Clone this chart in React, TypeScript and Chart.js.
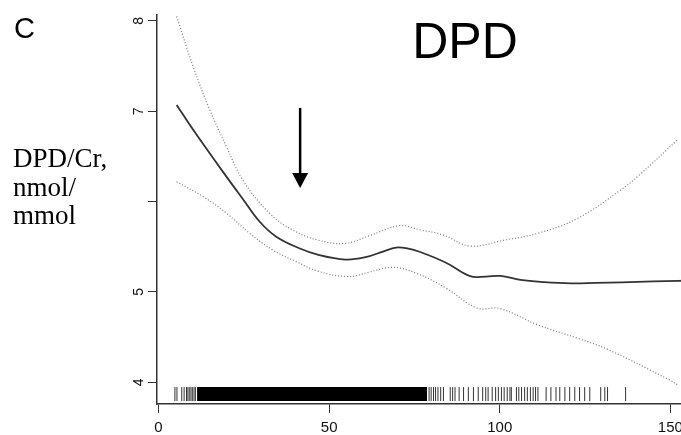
import { useEffect, useRef } from 'react';
import { Chart, registerables } from 'chart.js';

Chart.register(...registerables);

// Fitted curve (solid) and confidence band (dotted)
const fitCurve: [number, number][] = [
  [5.3, 7.071], [10.15, 6.795], [15, 6.536], [19.9, 6.277], [24.7, 6.03], [29.6, 5.78],
  [34.5, 5.612], [41.25, 5.484], [46.9, 5.41], [54.8, 5.359], [60.7, 5.385], [66, 5.45],
  [69.6, 5.491], [72.5, 5.485], [76.5, 5.445], [84.4, 5.321], [91.3, 5.175], [96, 5.17],
  [100.2, 5.178], [106.1, 5.134], [113, 5.11], [120.9, 5.096], [128, 5.1], [135.7, 5.107],
  [145, 5.118], [152.3, 5.123], [158, 5.13],
];
const upperBand: [number, number][] = [
  [5.3, 8.049], [10.15, 7.495], [15, 7.018], [19.9, 6.609], [24.7, 6.24], [32.5, 5.872],
  [39.3, 5.687], [46.9, 5.573], [54.8, 5.539], [61.7, 5.621], [70.6, 5.734], [76.5, 5.689],
  [83.4, 5.632], [91.3, 5.509], [101.2, 5.573], [111.2, 5.65], [122.9, 5.816], [135.5, 6.13],
  [140.4, 6.277], [152.3, 6.69],
];
const lowerBand: [number, number][] = [
  [5.3, 6.221], [13.1, 6.055], [19.9, 5.872], [26.7, 5.65], [33.5, 5.465], [40.3, 5.336],
  [46.9, 5.228], [55.8, 5.171], [61.7, 5.22], [68.6, 5.272], [75.5, 5.209], [84.4, 5.04],
  [93.3, 4.823], [100.2, 4.815], [111.2, 4.635], [122.9, 4.487], [131.6, 4.365], [149.6, 4.03],
  [152.3, 3.97],
];

// Rug of observed ages
const rugTicks: number[] = [
  4.8, 5.4, 6.8, 7.5, 8.2, 8.6, 9.0, 9.5, 9.9, 10.4, 10.8,
  79.3, 79.9, 80.6, 81.2, 81.9, 82.7, 83.5, 85.5, 86.2, 86.9, 88.1, 89.4, 90.8, 92.3, 93.7,
  95.0, 95.9, 96.6, 97.8, 98.8, 99.6, 100.5, 101.3, 102.2, 103.0, 103.4, 104.9, 105.6, 106.4,
  107.3, 108.1, 109.0, 109.8, 110.5, 111.2, 113.6, 115.0, 116.5, 117.6, 119.1, 120.5, 122.0,
  123.4, 124.9, 126.4, 129.6, 130.8, 131.6, 136.9,
];
const rugDenseRange: [number, number] = [11.3, 78.7];
const rugY = 3.87;
const rugTop = 3.948;
const rugBottom = 3.793;

const xTicks = [0, 50, 100, 150];
const xTickLabels = ['0', '50', '100', '150'];
const yTicks = [4, 5, 6, 7, 8];
const yTickLabels = ['4', '5', '', '7', '8'];

// Arrow marking the change point
const arrowX = 41.5;
const arrowFrom = 7.037;
const arrowTo = 6.152;

const panelLetter = 'C';
const titleText = 'DPD';
const yLabelLines = ['DPD/Cr,', 'nmol/', 'mmol'];

const toPts = (arr: [number, number][]) => arr.map(([x, y]) => ({ x, y }));

export default function App() {
  const ref = useRef<HTMLCanvasElement>(null);

  useEffect(() => {
    const canvas = ref.current!;
    const overlay = {
      id: 'overlay',
      afterDraw(chart: any) {
        const ctx = chart.ctx as CanvasRenderingContext2D;
        const xs = chart.scales.x;
        const ys = chart.scales.y;
        ctx.save();
        ctx.fillStyle = '#111';
        // x tick labels
        ctx.font = '15px "Liberation Sans", Arial, sans-serif';
        ctx.textAlign = 'center';
        ctx.textBaseline = 'middle';
        xTicks.forEach((v, i) => {
          ctx.fillText(xTickLabels[i], xs.getPixelForValue(v), 428);
        });
        // y tick labels rotated
        ctx.font = '14px "Liberation Sans", Arial, sans-serif';
        yTicks.forEach((v, i) => {
          if (!yTickLabels[i]) return;
          ctx.save();
          ctx.translate(139, ys.getPixelForValue(v));
          ctx.rotate(-Math.PI / 2);
          ctx.fillText(yTickLabels[i], 0, 0);
          ctx.restore();
        });
        // arrow
        const ax = xs.getPixelForValue(arrowX);
        const ay0 = ys.getPixelForValue(arrowFrom);
        const ay1 = ys.getPixelForValue(arrowTo);
        ctx.strokeStyle = '#000';
        ctx.fillStyle = '#000';
        ctx.lineWidth = 2.5;
        ctx.beginPath();
        ctx.moveTo(ax, ay0);
        ctx.lineTo(ax, ay1 - 12);
        ctx.stroke();
        ctx.beginPath();
        ctx.moveTo(ax - 8, ay1 - 15);
        ctx.lineTo(ax + 8, ay1 - 15);
        ctx.lineTo(ax, ay1);
        ctx.closePath();
        ctx.fill();
        // texts
        ctx.textBaseline = 'alphabetic';
        ctx.textAlign = 'left';
        ctx.font = '29px "Liberation Sans", Arial, sans-serif';
        ctx.fillText(panelLetter, 14, 38);
        ctx.textAlign = 'center';
        ctx.font = '50px "Liberation Sans", Arial, sans-serif';
        ctx.fillText(titleText, 465, 58);
        ctx.textAlign = 'left';
        ctx.font = '27px "Liberation Serif", "Times New Roman", serif';
        const baselines = [167, 196, 224];
        yLabelLines.forEach((t, i) => ctx.fillText(t, 13, baselines[i]));
        ctx.restore();
      },
    };

    const curve = (pts: [number, number][], color: string, width: number, dash: number[]) => ({
      data: toPts(pts),
      borderColor: color,
      borderWidth: width,
      borderDash: dash,
      pointRadius: 0,
      tension: 0.4,
      fill: false,
    });

    const chart = new Chart(canvas, {
      type: 'line',
      data: {
        datasets: [
          {
            data: [{ x: rugDenseRange[0], y: rugTop }, { x: rugDenseRange[1], y: rugTop }],
            borderWidth: 0,
            borderColor: 'rgba(0,0,0,0)',
            pointRadius: 0,
            fill: false,
          },
          {
            data: [{ x: rugDenseRange[0], y: rugBottom }, { x: rugDenseRange[1], y: rugBottom }],
            borderWidth: 0,
            borderColor: 'rgba(0,0,0,0)',
            backgroundColor: '#000',
            pointRadius: 0,
            fill: '-1',
          },
          {
            data: rugTicks.map((x) => ({ x, y: rugY })),
            showLine: false,
            pointStyle: 'line',
            pointRotation: 90,
            pointRadius: 7,
            pointBorderWidth: 1,
            pointBorderColor: '#333',
          } as any,
          curve(upperBand, '#777', 1.2, [1, 2]),
          curve(lowerBand, '#777', 1.2, [1, 2]),
          curve(fitCurve, '#333', 1.8, []),
        ],
      },
      options: {
        animation: false,
        responsive: false,
        devicePixelRatio: 1,
        layout: { padding: { left: 0, top: 15, right: 5, bottom: 0 } },
        plugins: {
          legend: { display: false },
          tooltip: { enabled: false },
          title: { display: false },
        },
        scales: {
          x: {
            type: 'linear',
            min: -0.45,
            max: 165.15,
            afterFit: (s: any) => { s.height = 31; },
            afterBuildTicks: (s: any) => { s.ticks = xTicks.map((v) => ({ value: v })); },
            ticks: { display: false },
            grid: { drawOnChartArea: false, drawTicks: true, tickLength: 9, color: '#333', lineWidth: 1 },
            border: { display: true, color: '#333', width: 1.5 },
          },
          y: {
            type: 'linear',
            min: 3.76,
            max: 8.066,
            afterFit: (s: any) => { s.width = 157; },
            afterBuildTicks: (s: any) => { s.ticks = yTicks.map((v) => ({ value: v })); },
            ticks: { display: false },
            grid: { drawOnChartArea: false, drawTicks: true, tickLength: 9, color: '#333', lineWidth: 1 },
            border: { display: true, color: '#333', width: 1.5 },
          },
        },
      } as any,
      plugins: [overlay],
    });
    return () => chart.destroy();
  }, []);

  return (
    <div style={{ position: 'absolute', left: 0, top: 0, width: 681, height: 435, overflow: 'hidden', background: '#fff' }}>
      <canvas ref={ref} width={730} height={435} style={{ width: 730, height: 435, display: 'block' }} />
    </div>
  );
}
